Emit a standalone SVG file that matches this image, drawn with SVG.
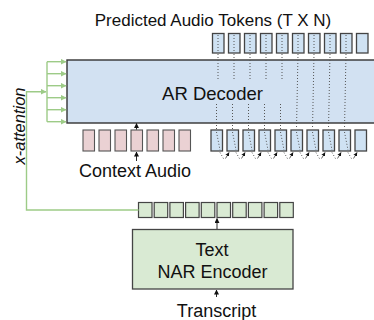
<svg xmlns="http://www.w3.org/2000/svg" width="374" height="320" viewBox="0 0 374 320">
<defs>
<style>
text{font-family:"Liberation Sans",Arial,sans-serif;fill:#111;text-anchor:middle}
.tokb{fill:#cfe2f3;stroke:#444;stroke-width:1.3}
.tokp{fill:#ead1d3;stroke:#555;stroke-width:1.1}
.tokg{fill:#d9ead3;stroke:#444;stroke-width:1.2}
.dot{fill:none;stroke:#555;stroke-width:1;stroke-dasharray:1 2}
.g{fill:none;stroke:#9dcb87;stroke-width:1.4}
.k{fill:none;stroke:#111;stroke-width:0.9}
.fb{fill:none;stroke:#555;stroke-width:0.9}
</style>
<marker id="ak" viewBox="0 0 6 6" refX="5.5" refY="3" markerWidth="5" markerHeight="5" markerUnits="userSpaceOnUse" orient="auto"><path d="M0,0L6,3L0,6z" fill="#111"/></marker>
<marker id="as" viewBox="0 0 6 6" refX="5.5" refY="3" markerWidth="4" markerHeight="4" markerUnits="userSpaceOnUse" orient="auto"><path d="M0,0L6,3L0,6z" fill="#111"/></marker>
<marker id="ag" viewBox="0 0 6 6" refX="5.5" refY="3" markerWidth="6" markerHeight="6" markerUnits="userSpaceOnUse" orient="auto"><path d="M0,0L6,3L0,6z" fill="#9dcb87"/></marker>
</defs>

<g id="title"><text x="213" y="26" font-size="17">Predicted Audio Tokens (T X N)</text></g>

<g id="predicted-tokens">
<rect class="tokb" x="212.5" y="33.5" width="11.5" height="19.5"/>
<rect class="tokb" x="228.5" y="33.5" width="11.5" height="19.5"/>
<rect class="tokb" x="244.5" y="33.5" width="11.5" height="19.5"/>
<rect class="tokb" x="260.5" y="33.5" width="11.5" height="19.5"/>
<rect class="tokb" x="276.5" y="33.5" width="11.5" height="19.5"/>
<rect class="tokb" x="292.5" y="33.5" width="11.5" height="19.5"/>
<rect class="tokb" x="308.5" y="33.5" width="11.5" height="19.5"/>
<rect class="tokb" x="324.5" y="33.5" width="11.5" height="19.5"/>
<rect class="tokb" x="340.5" y="33.5" width="11.5" height="19.5"/>
<rect class="tokb" x="356.5" y="33.5" width="11.5" height="19.5"/>
</g>

<g id="ar-decoder">
<rect x="67" y="60" width="320" height="63" fill="#d2e1f2" stroke="#333" stroke-width="1.4"/>
<text x="212.5" y="100" font-size="18.5">AR Decoder</text>
</g>

<g id="input-tokens">
<rect class="tokb" x="211" y="130" width="11.5" height="21"/>
<rect class="tokb" x="227" y="130" width="11.5" height="21"/>
<rect class="tokb" x="243" y="130" width="11.5" height="21"/>
<rect class="tokb" x="259" y="130" width="11.5" height="21"/>
<rect class="tokb" x="275" y="130" width="11.5" height="21"/>
<rect class="tokb" x="291" y="130" width="11.5" height="21"/>
<rect class="tokb" x="307" y="130" width="11.5" height="21"/>
<rect class="tokb" x="323" y="130" width="11.5" height="21"/>
<rect class="tokb" x="339" y="130" width="11.5" height="21"/>
<rect class="tokb" x="355" y="130" width="11.5" height="21"/>
</g>

<g id="context-audio">
<rect class="tokp" x="83" y="130" width="11.5" height="21"/>
<rect class="tokp" x="99" y="130" width="11.5" height="21"/>
<rect class="tokp" x="115" y="130" width="11.5" height="21"/>
<rect class="tokp" x="131" y="130" width="11.5" height="21"/>
<rect class="tokp" x="147" y="130" width="11.5" height="21"/>
<rect class="tokp" x="163" y="130" width="11.5" height="21"/>
<rect class="tokp" x="179" y="130" width="11.5" height="21"/>
<text x="135" y="177" font-size="18">Context Audio</text>
</g>

<g id="text-tokens">
<rect class="tokg" x="138.5" y="202.5" width="13.5" height="15"/>
<rect class="tokg" x="154.2" y="202.5" width="13.5" height="15"/>
<rect class="tokg" x="169.9" y="202.5" width="13.5" height="15"/>
<rect class="tokg" x="185.6" y="202.5" width="13.5" height="15"/>
<rect class="tokg" x="201.3" y="202.5" width="13.5" height="15"/>
<rect class="tokg" x="217" y="202.5" width="13.5" height="15"/>
<rect class="tokg" x="232.7" y="202.5" width="13.5" height="15"/>
<rect class="tokg" x="248.4" y="202.5" width="13.5" height="15"/>
<rect class="tokg" x="264.1" y="202.5" width="13.5" height="15"/>
<rect class="tokg" x="279.8" y="202.5" width="13.5" height="15"/>
</g>

<g id="text-nar-encoder">
<rect x="132.5" y="229.5" width="160.5" height="59.5" fill="#d9ead3" stroke="#444" stroke-width="1.3"/>
<text x="212" y="256" font-size="18">Text</text>
<text x="212.5" y="277.5" font-size="18">NAR Encoder</text>
</g>

<g id="transcript"><text x="216.5" y="316.5" font-size="18">Transcript</text></g>

<g id="x-attention-label"><text transform="translate(25,126) rotate(-90)" font-size="16.5" font-style="italic">x-attention</text></g>

<g id="connectors">
<path class="g" d="M138.5,210H26.5V91.7H46" marker-end="url(#ag)"/>
<path class="g" d="M47,61.7V121.7"/>
<path class="g" d="M47,61.7H66" marker-end="url(#ag)"/>
<path class="g" d="M47,73.7H66" marker-end="url(#ag)"/>
<path class="g" d="M47,85.7H66" marker-end="url(#ag)"/>
<path class="g" d="M47,97.7H66" marker-end="url(#ag)"/>
<path class="g" d="M47,109.7H66" marker-end="url(#ag)"/>
<path class="g" d="M47,121.7H66" marker-end="url(#ag)"/>
<path class="k" d="M216.5,297V290" marker-end="url(#ak)"/>
<path class="k" d="M217,229V218.5" marker-end="url(#ak)"/>
<path class="k" d="M136.5,161V152" marker-end="url(#ak)"/>
<path class="k" d="M136.5,129.5V123.5" marker-end="url(#ak)"/>
<path class="dot" d="M218,35V52M234,35V52M250,35V52M266,35V52M282,35V52M298,35V52M314,35V52M330,35V52M346,35V52"/>
<path class="dot" d="M218,54V79M234,54V79M250,54V79M266,54V79M282,54V79"/>
<path class="dot" d="M216.5,104V129M232.5,104V129M248.5,104V129M264.5,104V129M280.5,104V129"/>
<path class="dot" d="M298,54L296.5,129M314,54L312.5,129M330,54L328.5,129M346,54L344.5,129"/>
<path class="dot" d="M216.5,132L220,150M232.5,132L236,150M248.5,132L252,150M264.5,132L268,150M280.5,132L284,150M296.5,132L300,150M312.5,132L316,150M328.5,132L332,150M344.5,132L348,150"/>
<path class="dot" d="M220,152.5L224,159.5M236,152.5L240,159.5M252,152.5L256,159.5M268,152.5L272,159.5M284,152.5L288,159.5M300,152.5L304,159.5M316,152.5L320,159.5M332,152.5L336,159.5M348,152.5L352,159.5"/>
<path class="fb" d="M225.5,158.5L229,152.5" marker-end="url(#as)"/>
<path class="fb" d="M241.5,158.5L245,152.5" marker-end="url(#as)"/>
<path class="fb" d="M257.5,158.5L261,152.5" marker-end="url(#as)"/>
<path class="fb" d="M273.5,158.5L277,152.5" marker-end="url(#as)"/>
<path class="fb" d="M289.5,158.5L293,152.5" marker-end="url(#as)"/>
<path class="fb" d="M305.5,158.5L309,152.5" marker-end="url(#as)"/>
<path class="fb" d="M321.5,158.5L325,152.5" marker-end="url(#as)"/>
<path class="fb" d="M337.5,158.5L341,152.5" marker-end="url(#as)"/>
<path class="fb" d="M353.5,158.5L357,152.5" marker-end="url(#as)"/>
</g>
</svg>
